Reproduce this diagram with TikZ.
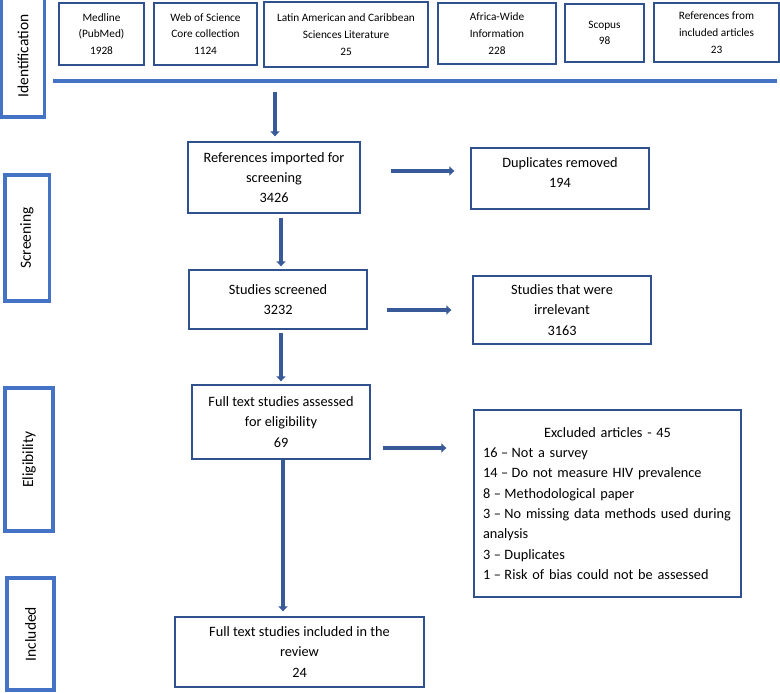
\documentclass[tikz,border=0pt]{standalone}
\usepackage{fontspec}
\setmainfont{Carlito}
\usepackage{xcolor}
\usetikzlibrary{arrows.meta,calc,positioning}
\definecolor{stageblue}{RGB}{68,114,196}
\definecolor{boxblue}{RGB}{47,82,143}
\definecolor{flowblue}{RGB}{56,90,152}
\tikzset{%
	stagebox/.style = {draw=stageblue, line width=3.5pt, rectangle, rotate=90, inner sep=0pt, font=\fontsize{15.5}{18}\selectfont},
	srcbox/.style   = {draw=boxblue, line width=1.3pt, rectangle, inner sep=0pt, align=center, font=\fontsize{11.3}{16.7}\selectfont},
	process/.style  = {draw=boxblue, line width=1.3pt, rectangle, inner sep=0pt, align=center, font=\fontsize{14.3}{20.3}\selectfont},
	flow/.style     = {draw=flowblue, line width=3.5pt, -{Triangle[length=5pt,width=9pt]}},
	bar/.style      = {draw=stageblue, line width=4pt},
}
\newcommand{\exdash}{\kern-1.2pt–\kern-1.2pt}

\begin{document}
\begin{tikzpicture}[x=1pt,y=-1pt]
		\path[use as bounding box, clip] (0,0) rectangle (780,693);
		
		% stages
		\foreach \nm/\cx/\cy/\len/\thk/\txt in {ident/23/56/122/43/Identification, screen/27/238/126/44.5/Screening, elig/29/459.5/143/48/Eligibility, incl/30.5/634/112/47/Included}
			\node[stagebox, minimum width=\len, minimum height=\thk] (\nm) at (\cx,\cy) {\txt};
		
		% sources
		\foreach \nm/\cx/\cy/\bw/\bh/\txt in {medline/101.5/34/85/62/{Medline\\(PubMed)\\1928}, wos/205.5/34/103/62/{Web of Science\\Core collection\\1124}, lilacs/346/34.5/164/65/{Latin American and Caribbean\\Sciences Literature\\25}, africa/497/33.5/118/61/{Africa-Wide\\Information\\228}, scopus/604.5/33/79/58/{Scopus\\98}, refsin/716.5/32.5/125/59/{References from\\included articles\\23}}
			\node[srcbox, minimum width=\bw, minimum height=\bh] (\nm) at (\cx,\cy) {\txt};
		
		\draw[bar] (53,81) -- (777,81);
		\coordinate (feed) at (275,92);
		
		% steps
		\node[process, minimum width=172, minimum height=71] (refs) at (274,177.5) {References imported for\\screening\\3426};
		\node[process, minimum width=178, minimum height=61, text depth=12pt] (dups) at (560,178.5) {Duplicates removed\\194};
		\node[process, minimum width=178, minimum height=59] (screened) at (278,299.5) {Studies screened\\3232};
		\node[process, minimum width=178, minimum height=68] (irrel) at (562,310) {Studies that were\\irrelevant\\3163};
		\node[process, minimum width=178, minimum height=74] (assessed) at (281,422) {Full text studies assessed\\for eligibility\\69};
		\node[process, minimum width=267, minimum height=187, text width=249, align=left] (excl) at (607.5,503.5) {\makebox[\linewidth]{Excluded articles - 45}\\16 \exdash{} Not a survey\\14 \exdash{} Do not measure HIV prevalence\\8 \exdash{} Methodological paper\\3 \exdash{} No missing data methods used during\\analysis\\3 \exdash{} Duplicates\\1 \exdash{} Risk of bias could not be assessed};
		\node[process, minimum width=249, minimum height=70] (included) at (299.5,652) {Full text studies included in the\\review\\24};
		
		% arrows down
		\draw[flow, shorten >=5pt] (feed) -- (feed |- refs.north);
		\draw[flow, shorten <=4pt, shorten >=3pt] ([xshift=7pt]refs.south) -- ([xshift=7pt]refs.south |- screened.north);
		\draw[flow, shorten <=3pt, shorten >=3pt] ([xshift=3pt]screened.south) -- ([xshift=3pt]screened.south |- assessed.north);
		\draw[flow, shorten >=5pt] ([xshift=2pt]assessed.south) -- ([xshift=2pt]assessed.south |- included.north);
		
		% arrows right
		\draw[flow, shorten <=30pt, shorten >=16pt] ([yshift=6.5pt]refs.east) -- ([yshift=6.5pt]refs.east -| dups.west);
		\draw[flow, shorten <=19pt, shorten >=21pt] ([yshift=-10.5pt]screened.east) -- ([yshift=-10.5pt]screened.east -| irrel.west);
		\draw[flow, shorten <=12pt, shorten >=27pt] ([yshift=-26pt]assessed.east) -- ([yshift=-26pt]assessed.east -| excl.west);
\end{tikzpicture}
\end{document}
